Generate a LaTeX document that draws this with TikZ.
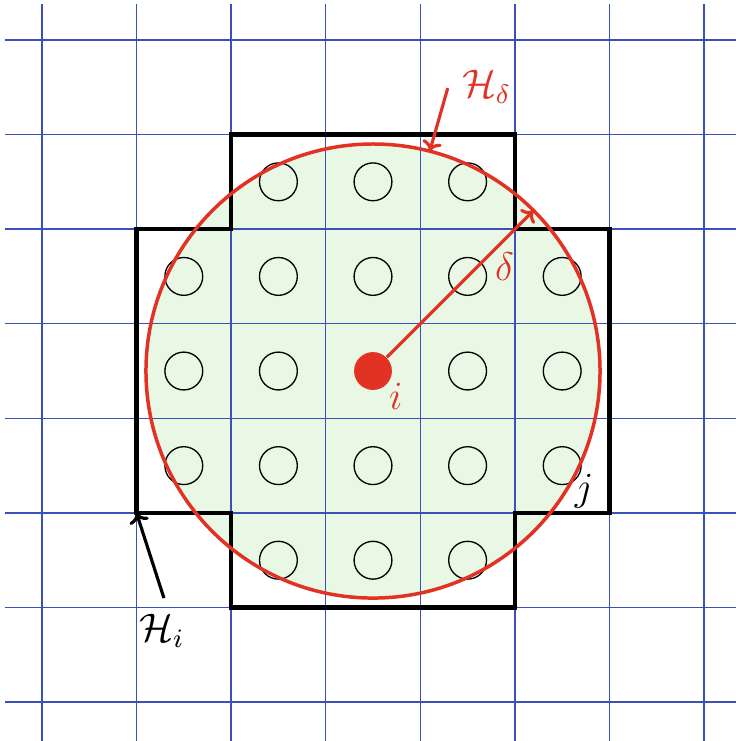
\documentclass[tikz,border=0pt]{standalone}
\usetikzlibrary{arrows.meta}
\definecolor{gridblue}{RGB}{60,80,185}
\definecolor{hred}{RGB}{225,50,35}
\definecolor{lgreen}{RGB}{232,248,229}
\begin{document}
\begin{tikzpicture}[
  gridline/.style={draw=gridblue, line width=0.4pt},
  hullline/.style={draw=black, line width=1.4pt},
  ballline/.style={draw=hred, line width=1.05pt},
  site/.style={circle, draw=black, line width=0.4pt, minimum size=0.4cm, inner sep=0pt},
  lbl/.style={font=\large, inner sep=1pt},
  ptr/.style={line width=0.95pt, -{To[length=3pt,width=6pt]}}
]
\useasboundingbox (-3.943,-3.911) rectangle (3.837,3.922);
\begin{scope}
\clip (-3.943,-3.911) rectangle (3.837,3.922);
\fill[lgreen] (0,0) circle (2.4);
\foreach \k in {-3.5,-2.5,...,3.5} {
  \draw[gridline] (\k,-4) -- (\k,3.88);
  \draw[gridline] (-3.89,\k) -- (4,\k);
}
\end{scope}
\foreach \x in {-2,...,2} \foreach \y in {-2,...,2} {
  \pgfmathtruncatemacro{\ok}{(\x*\x+\y*\y<8)&&!(\x==0&&\y==0)}
  \ifnum\ok=1 \node[site] (s\x\y) at (\x,\y) {}; \fi
}
\draw[hullline] (-1.5,2.5) -- (1.5,2.5) -- (1.5,1.5) -- (2.5,1.5) -- (2.5,-1.5) -- (1.5,-1.5) -- (1.5,-2.5) -- (-1.5,-2.5) -- (-1.5,-1.5) -- (-2.5,-1.5) -- (-2.5,1.5) -- (-1.5,1.5) -- cycle;
\coordinate (hcorner) at (-2.5,-1.5);
\draw[ballline] (0,0) circle (2.4);
\fill[hred] (0,0) circle (0.2);
\node[circle, minimum size=0.4cm, inner sep=0pt] (i) at (0,0) {};
\coordinate (rim) at (45:2.4);
\coordinate (top) at (0.6,2.325);
\draw[hred, ptr] (i) -- (rim);
\node[lbl, text=hred] (il) at (0.24,-0.27) {$i$};
\node[lbl, text=hred] (dl) at (1.39,1.1) {$\delta$};
\node[lbl, text=hred] (hd) at (1.2,3.0) {$\mathcal{H}_\delta$};
\coordinate (hdtail) at (0.79,2.99);
\draw[hred, ptr] (hdtail) -- (top);
\node[lbl] (jl) at (2.23,-1.27) {$j$};
\node[lbl] (hi) at (-2.23,-2.75) {$\mathcal{H}_i$};
\coordinate (hitail) at (-2.21,-2.4);
\draw[ptr] (hitail) -- (hcorner);
\end{tikzpicture}
\end{document}
